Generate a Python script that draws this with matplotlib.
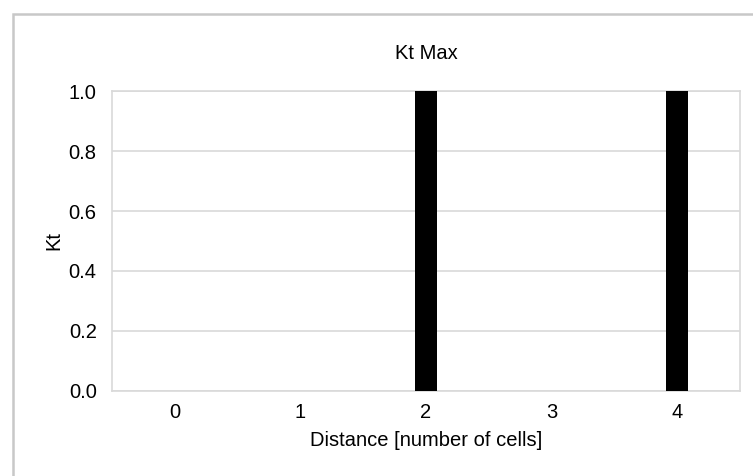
import matplotlib
matplotlib.use("Agg")
import matplotlib.pyplot as plt
from matplotlib.patches import Rectangle

# Données
categories = ["0", "1", "2", "3", "4"]
kt_max = [0.0, 0.0, 1.0, 0.0, 1.0]
y_ticks = [0.0, 0.2, 0.4, 0.6, 0.8, 1.0]

plt.rcParams['font.family'] = ['Liberation Sans', 'DejaVu Sans']
fs = 14.5

fig = plt.figure(figsize=(7.53, 4.76), dpi=100)
ax = fig.add_axes([0.1487, 0.1786, 0.834, 0.6302])

# cadre gris autour de la figure
fig.patches.append(Rectangle((13 / 753, -0.05), 1.1, 1 - 14 / 476 + 0.05,
                             transform=fig.transFigure, fill=False,
                             edgecolor='#c8c8c8', linewidth=1.8))

x = range(len(categories))
ax.bar(x, kt_max, width=0.175, color='black', zorder=3)

ax.set_xlim(-0.5, len(categories) - 0.5)
ax.set_ylim(0, 1.0)
ax.set_xticks(list(x))
ax.set_xticklabels(categories)
ax.set_yticks(y_ticks)
ax.set_yticklabels([f"{v:.1f}" for v in y_ticks])
ax.tick_params(length=0, labelsize=fs)
ax.tick_params(axis='x', pad=9)
ax.tick_params(axis='y', pad=11)
ax.grid(axis='y', color='#d9d9d9', linewidth=1.2, zorder=0)
for s in ax.spines.values():
    s.set_color('#d9d9d9')
    s.set_linewidth(1.2)

ax.set_title('Kt Max', fontsize=fs, pad=23)
ax.set_xlabel('Distance [number of cells]', fontsize=fs, labelpad=6)
ax.set_ylabel('Kt', fontsize=fs, labelpad=4)

fig.savefig('out.png', dpi=100)
